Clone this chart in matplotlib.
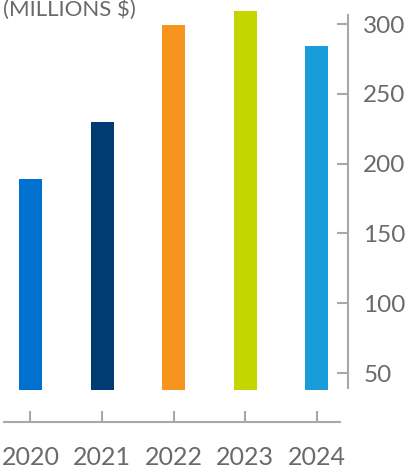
import matplotlib
matplotlib.use("Agg")
import matplotlib.pyplot as plt

years = ["2020", "2021", "2022", "2023", "2024"]
values = [189, 230, 299, 309, 284]
base = 38
colors = ["#0071CE", "#003B71", "#F7941E", "#C4D600", "#189DD8"]
yticks = [50, 100, 150, 200, 250, 300]
unit_label = "(MILLIONS $)"

plt.rcParams['font.family'] = ['Lato', 'DejaVu Sans']
plt.rcParams['font.weight'] = 400
text_color = "#6A6A6A"
axis_color = "#A8A8A8"

W, H = 406, 474
fig = plt.figure(figsize=(W / 100, H / 100), dpi=100)
ax = fig.add_axes([4 / W, 52 / H, 344 / W, 422 / H])

x = list(range(len(years)))
heights = [v - base for v in values]
ax.bar(x, heights, bottom=base, width=0.32, color=colors)

ax.set_xlim(-0.37, 4.434)
ax.set_ylim(14.9, 317.2)

for s in ["left", "top"]:
    ax.spines[s].set_visible(False)
ax.spines["right"].set_color(axis_color)
ax.spines["bottom"].set_color(axis_color)
ax.spines["right"].set_linewidth(1.5)
ax.spines["bottom"].set_linewidth(1.5)
ax.spines["right"].set_bounds(39.3, 306.4)
ax.spines["bottom"].set_bounds(-0.37, 4.32)

ax.yaxis.tick_right()
ax.set_yticks(yticks)
ax.set_yticklabels([str(t) for t in yticks])
ax.tick_params(axis="y", direction="in", length=8, width=1.5, color=axis_color,
               labelsize=17.5, labelcolor=text_color, pad=11)
ax.set_xticks(x)
ax.set_xticklabels(years)
ax.tick_params(axis="x", direction="in", length=8, width=1.5, color=axis_color,
               labelsize=18, labelcolor=text_color, pad=17)

fig.text(3 / W, 1 - 16 / H, unit_label, fontsize=16, color=text_color,
         ha="left", va="baseline")

fig.savefig("out.png", dpi=100)
